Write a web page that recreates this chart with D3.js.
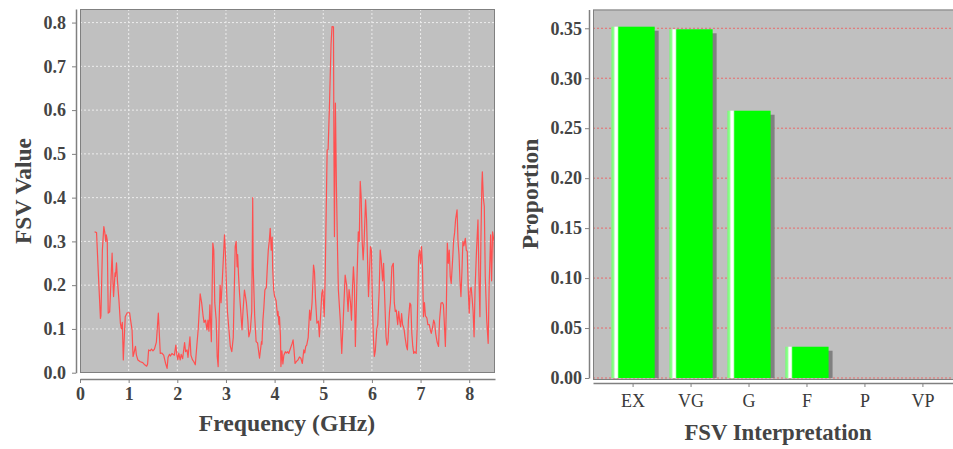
<!DOCTYPE html>
<html>
<head>
<meta charset="utf-8">
<script src="https://cdn.jsdelivr.net/npm/d3@7"></script>
<style>
  body { margin: 0; background: #ffffff; }
  text { font-family: "Liberation Serif", "DejaVu Serif", serif; }
</style>
</head>
<body>
<div id="chart"></div>
<script>
// left chart: FSV value against frequency
var freq = [0.30,0.34,0.38,0.42,0.43,0.46,0.49,0.51,0.53,0.54,0.56,0.58,0.61,0.64,0.66,0.68,0.69,0.72,0.73,0.75,
  0.77,0.80,0.83,0.85,0.87,0.89,0.91,0.93,0.97,1.02,1.04,1.07,1.09,1.11,1.14,1.16,1.19,1.24,1.29,1.33,
  1.37,1.39,1.41,1.44,1.47,1.50,1.53,1.57,1.61,1.63,1.65,1.68,1.72,1.76,1.79,1.81,1.84,1.86,1.89,1.91,
  1.94,1.97,1.99,2.01,2.03,2.06,2.08,2.11,2.15,2.17,2.20,2.22,2.26,2.28,2.31,2.34,2.37,2.40,2.43,2.47,
  2.50,2.53,2.55,2.58,2.61,2.63,2.65,2.67,2.69,2.70,2.73,2.75,2.77,2.80,2.82,2.84,2.86,2.88,2.90,2.92,
  2.97,2.99,3.01,3.03,3.06,3.09,3.12,3.15,3.19,3.21,3.23,3.24,3.26,3.28,3.31,3.33,3.35,3.38,3.40,3.42,
  3.45,3.47,3.50,3.53,3.55,3.56,3.59,3.62,3.65,3.69,3.73,3.74,3.76,3.78,3.80,3.83,3.85,3.87,3.89,3.91,
  3.93,3.95,3.96,3.98,4.00,4.03,4.06,4.07,4.09,4.10,4.12,4.13,4.15,4.17,4.19,4.22,4.24,4.27,4.29,4.33,
  4.36,4.38,4.40,4.42,4.45,4.48,4.51,4.54,4.57,4.60,4.62,4.64,4.66,4.69,4.72,4.74,4.77,4.80,4.82,4.84,
  4.87,4.90,4.92,4.95,4.97,4.99,5.02,5.04,5.06,5.08,5.10,5.13,5.16,5.18,5.21,5.22,5.23,5.25,5.27,5.29,
  5.31,5.35,5.38,5.41,5.45,5.48,5.51,5.53,5.56,5.58,5.60,5.62,5.64,5.66,5.69,5.72,5.74,5.76,5.78,5.80,
  5.82,5.84,5.87,5.89,5.91,5.93,5.95,5.97,5.99,6.01,6.03,6.05,6.07,6.10,6.12,6.15,6.17,6.19,6.22,6.24,
  6.26,6.29,6.31,6.33,6.36,6.38,6.41,6.44,6.46,6.48,6.50,6.53,6.55,6.57,6.59,6.61,6.63,6.66,6.68,6.71,
  6.73,6.75,6.78,6.80,6.82,6.84,6.86,6.88,6.91,6.93,6.96,6.98,7.00,7.02,7.04,7.06,7.08,7.10,7.13,7.15,
  7.18,7.20,7.22,7.25,7.27,7.29,7.31,7.34,7.37,7.39,7.42,7.45,7.47,7.49,7.51,7.53,7.55,7.57,7.59,7.61,
  7.63,7.66,7.68,7.70,7.72,7.75,7.77,7.79,7.81,7.83,7.85,7.87,7.89,7.92,7.94,7.96,7.98,8.00,8.02,8.04,
  8.06,8.08,8.10,8.12,8.15,8.18,8.20,8.22,8.24,8.26,8.27,8.29,8.31,8.33,8.36,8.39,8.41,8.44,8.46,8.48,
  8.51,8.53];
var fsv = [0.322,0.320,0.22,0.124,0.13,0.28,0.334,0.32,0.30,0.315,0.303,0.136,0.139,0.22,0.273,0.20,0.174,0.228,0.22,0.251,
  0.21,0.166,0.113,0.10,0.115,0.029,0.08,0.128,0.137,0.137,0.12,0.098,0.037,0.045,0.06,0.04,0.029,0.025,0.023,0.018,
  0.015,0.02,0.052,0.05,0.054,0.05,0.054,0.07,0.136,0.09,0.044,0.045,0.040,0.021,0.010,0.035,0.042,0.038,0.044,0.042,
  0.040,0.063,0.042,0.030,0.045,0.029,0.042,0.032,0.069,0.048,0.052,0.035,0.082,0.040,0.030,0.025,0.018,0.06,0.10,0.18,
  0.16,0.13,0.115,0.12,0.098,0.12,0.095,0.155,0.10,0.071,0.296,0.28,0.16,0.12,0.037,0.014,0.12,0.20,0.16,0.20,
  0.315,0.27,0.20,0.14,0.10,0.060,0.048,0.08,0.288,0.30,0.242,0.27,0.219,0.18,0.13,0.098,0.14,0.189,0.175,0.16,
  0.12,0.082,0.095,0.14,0.40,0.242,0.13,0.071,0.068,0.033,0.071,0.065,0.12,0.15,0.189,0.195,0.24,0.28,0.30,0.33,
  0.28,0.31,0.24,0.19,0.174,0.165,0.13,0.14,0.11,0.128,0.085,0.014,0.05,0.02,0.04,0.048,0.045,0.048,0.044,0.057,
  0.067,0.075,0.050,0.021,0.026,0.029,0.036,0.033,0.021,0.052,0.045,0.06,0.063,0.08,0.143,0.12,0.16,0.246,0.23,0.17,
  0.113,0.118,0.082,0.14,0.181,0.19,0.128,0.22,0.368,0.509,0.51,0.62,0.75,0.791,0.79,0.50,0.311,0.616,0.43,0.30,
  0.19,0.12,0.044,0.12,0.223,0.20,0.14,0.19,0.16,0.12,0.19,0.242,0.20,0.06,0.20,0.322,0.30,0.437,0.40,0.30,
  0.258,0.30,0.395,0.35,0.26,0.174,0.23,0.288,0.28,0.16,0.08,0.037,0.05,0.10,0.11,0.189,0.28,0.26,0.21,0.25,
  0.18,0.082,0.063,0.07,0.136,0.16,0.242,0.25,0.16,0.14,0.143,0.11,0.14,0.12,0.105,0.135,0.11,0.10,0.082,0.06,
  0.052,0.12,0.159,0.155,0.09,0.06,0.044,0.048,0.044,0.10,0.265,0.28,0.25,0.288,0.24,0.128,0.16,0.13,0.125,0.11,
  0.11,0.098,0.09,0.105,0.12,0.113,0.09,0.07,0.06,0.12,0.159,0.16,0.155,0.11,0.06,0.15,0.296,0.25,0.28,0.22,
  0.204,0.26,0.303,0.32,0.35,0.372,0.30,0.27,0.21,0.174,0.23,0.30,0.29,0.307,0.28,0.277,0.19,0.136,0.19,0.195,
  0.17,0.14,0.082,0.19,0.28,0.349,0.22,0.128,0.30,0.43,0.459,0.40,0.38,0.22,0.12,0.067,0.20,0.315,0.21,0.322,
  0.30,0.21];
var freqTicks = [0,1,2,3,4,5,6,7,8];
var fsvTicks = [0,0.1,0.2,0.3,0.4,0.5,0.6,0.7,0.8];

// right chart: proportion in each FSV interpretation class
var classes = ["EX","VG","G","F","P","VP"];
var proportion = [0.3516,0.349,0.2675,0.0313,0,0];
var propTicks = [0,0.05,0.10,0.15,0.20,0.25,0.30,0.35];

function init()
{
    const width = 953;
    const height = 449;

    var svg = d3.select("#chart")
        .append("svg")
        .attr("width", width)
        .attr("height", height);

    var defs = svg.append("defs");

    // ---------- left chart ----------
    var L = {left: 80, right: 495, top: 9, bottom: 373};

    var x = d3.scaleLinear().domain([0, 8.53]).range([L.left, L.right]);
    var y = d3.scaleLinear().domain([0, 0.831]).range([372.7, L.top]);

    defs.append("clipPath").attr("id", "clipL")
        .append("rect")
        .attr("x", L.left).attr("y", L.top)
        .attr("width", L.right - L.left).attr("height", L.bottom - L.top);

    svg.append("rect")
        .attr("x", L.left).attr("y", L.top)
        .attr("width", L.right - L.left).attr("height", L.bottom - L.top)
        .attr("fill", "#c0c0c0");

    var gl = svg.append("g").attr("clip-path", "url(#clipL)");

    gl.selectAll("line.vg")
        .data(freqTicks.slice(1))
        .enter()
        .append("line")
        .attr("x1", d => x(d)).attr("x2", d => x(d))
        .attr("y1", L.top).attr("y2", L.bottom)
        .attr("stroke", "#ececec").attr("stroke-width", 1)
        .attr("stroke-dasharray", "2,2");

    gl.selectAll("line.hg")
        .data(fsvTicks)
        .enter()
        .append("line")
        .attr("x1", L.left).attr("x2", L.right)
        .attr("y1", d => y(d)).attr("y2", d => y(d))
        .attr("stroke", "#ececec").attr("stroke-width", 1)
        .attr("stroke-dasharray", "2,2");

    var line = d3.line()
        .x((d, i) => x(freq[i]))
        .y(d => y(d));

    gl.append("path")
        .attr("d", line(fsv))
        .attr("fill", "none")
        .attr("stroke", "#ff5050")
        .attr("stroke-width", 1.2)
        .attr("stroke-linejoin", "round");

    svg.append("rect")
        .attr("x", L.left + 0.5).attr("y", L.top + 0.5)
        .attr("width", L.right - L.left - 1).attr("height", L.bottom - L.top - 1)
        .attr("fill", "none").attr("stroke", "#808080");

    var xAxis = svg.append("g")
        .attr("transform", "translate(0,379)")
        .call(d3.axisBottom(x).tickValues(freqTicks).tickFormat(d3.format("d")).tickSizeInner(4).tickSizeOuter(0));

    var yAxis = svg.append("g")
        .attr("transform", "translate(76,0)")
        .call(d3.axisLeft(y).tickValues(fsvTicks).tickFormat(d3.format(".1f")).tickSizeInner(4).tickSizeOuter(0));

    // ---------- right chart ----------
    var R = {left: 593, right: 963, top: 9.5, bottom: 380};

    var xb = d3.scaleBand()
        .domain(classes)
        .range([R.left, R.right])
        .paddingInner(0.255)
        .paddingOuter(0.319);

    var yb = d3.scaleLinear().domain([0, 0.3688]).range([378, R.top]);

    defs.append("clipPath").attr("id", "clipR")
        .append("rect")
        .attr("x", R.left).attr("y", R.top)
        .attr("width", R.right - R.left).attr("height", 378 - R.top);

    var grad = defs.append("linearGradient")
        .attr("id", "barGrad")
        .attr("x1", "0").attr("x2", "1").attr("y1", "0").attr("y2", "0");
    grad.append("stop").attr("offset", "0").attr("stop-color", "#70ff70");
    grad.append("stop").attr("offset", "0.05").attr("stop-color", "#90ff90");
    grad.append("stop").attr("offset", "0.085").attr("stop-color", "#ffffff");
    grad.append("stop").attr("offset", "0.135").attr("stop-color", "#ffffff");
    grad.append("stop").attr("offset", "0.17").attr("stop-color", "#00ff00");
    grad.append("stop").attr("offset", "1").attr("stop-color", "#00ff00");

    svg.append("rect")
        .attr("x", R.left).attr("y", R.top)
        .attr("width", R.right - R.left).attr("height", R.bottom - R.top)
        .attr("fill", "#c0c0c0");

    svg.selectAll("line.rg")
        .data(propTicks)
        .enter()
        .append("line")
        .attr("x1", R.left).attr("x2", R.right)
        .attr("y1", d => yb(d)).attr("y2", d => yb(d))
        .attr("stroke", "#e86a6a").attr("stroke-width", 1)
        .attr("stroke-dasharray", "2,2");

    var gr = svg.append("g").attr("clip-path", "url(#clipR)");

    var bars = gr.selectAll("g.bar")
        .data(proportion)
        .enter()
        .append("g")
        .attr("class", "bar");

    bars.filter(d => d > 0).append("rect")
        .attr("x", (d, i) => xb(classes[i]) + 4)
        .attr("y", d => yb(d) + 4)
        .attr("width", xb.bandwidth())
        .attr("height", d => yb(0) - yb(d))
        .attr("fill", "#808080");

    bars.filter(d => d > 0).append("rect")
        .attr("x", (d, i) => xb(classes[i]))
        .attr("y", d => yb(d))
        .attr("width", xb.bandwidth())
        .attr("height", d => yb(0) - yb(d))
        .attr("fill", "url(#barGrad)");

    svg.append("rect")
        .attr("x", R.left + 0.5).attr("y", R.top + 0.5)
        .attr("width", R.right - R.left - 1).attr("height", R.bottom - R.top - 1)
        .attr("fill", "none").attr("stroke", "#808080");

    var xbAxis = svg.append("g")
        .attr("transform", "translate(0,383)")
        .call(d3.axisBottom(xb).tickSizeInner(4).tickSizeOuter(0));

    var ybAxis = svg.append("g")
        .attr("transform", "translate(589,0)")
        .call(d3.axisLeft(yb).tickValues(propTicks).tickFormat(d3.format(".2f")).tickSizeInner(4).tickSizeOuter(0));

    // axis styling
    [xAxis, yAxis, xbAxis, ybAxis].forEach(function(a) {
        a.select(".domain").attr("stroke", "#808080").attr("stroke-width", 1.5);
        a.selectAll(".tick line").attr("stroke", "#808080");
        a.selectAll(".tick text")
            .attr("fill", "#444444")
            .style("font-family", "'Liberation Serif', serif")
            .style("font-size", "18px")
            .style("font-weight", "bold");
    });
    xAxis.selectAll(".tick text").attr("dy", "0").attr("y", 21);
    xbAxis.selectAll(".tick text").attr("dy", "0").attr("y", 24)
        .attr("fill", "#3a3a3a").style("font-weight", "normal");
    yAxis.selectAll(".tick text").attr("x", -10);
    ybAxis.selectAll(".tick text").attr("x", -7);

    // axis titles
    function title(t, tx, ty, rot, size)
    {
        svg.append("text")
            .text(t)
            .attr("text-anchor", "middle")
            .attr("transform", "translate(" + tx + "," + ty + ")" + (rot ? " rotate(-90)" : ""))
            .attr("fill", "#444444")
            .style("font-size", size + "px")
            .style("font-weight", "bold");
    }
    title("Frequency (GHz)", 287, 431, false, 23.7);
    title("FSV Value", 31, 191, true, 23.5);
    title("FSV Interpretation", 778, 440, false, 22.8);
    title("Proportion", 538, 194, true, 23.5);
}

init();
</script>
</body>
</html>
